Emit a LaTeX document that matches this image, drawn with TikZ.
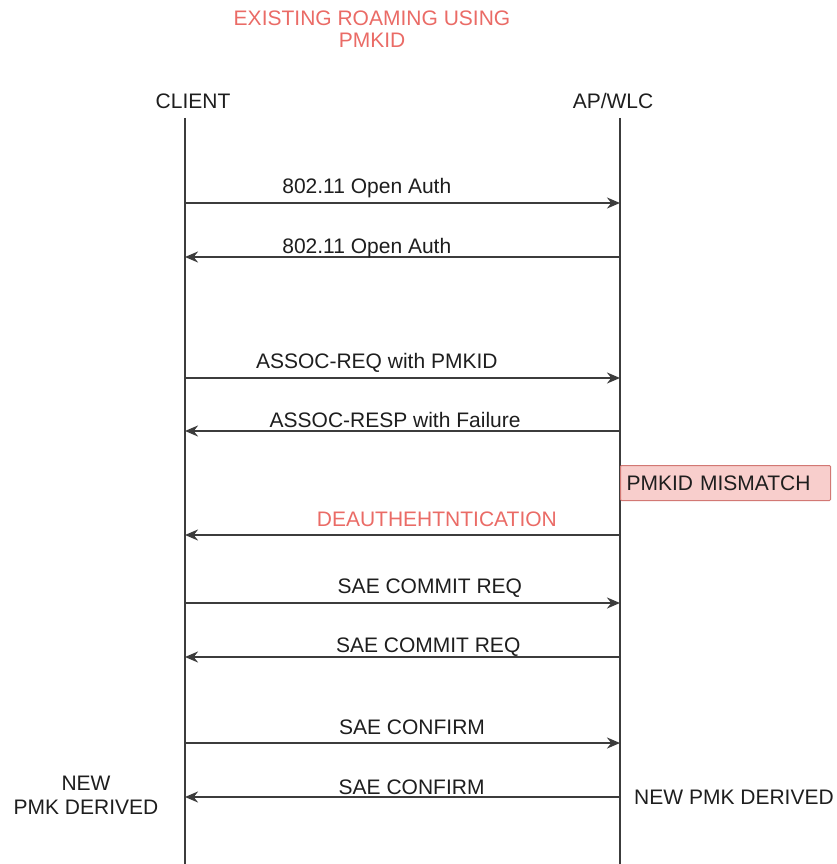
\documentclass[tikz,border=0pt]{standalone}
\usepackage{fontspec}
\setmainfont{Liberation Sans}
\usepackage{xcolor}
\usepackage{tikz}
\usetikzlibrary{arrows.meta, positioning}
\definecolor{linegray}{RGB}{60,60,60}
\definecolor{titlered}{RGB}{234,107,102}
\definecolor{notefill}{RGB}{248,206,204}
\definecolor{noteborder}{RGB}{210,120,116}
\definecolor{textdark}{RGB}{30,30,30}
\tikzset{
  label20/.style={font=\fontsize{21}{24}\selectfont, text=textdark, inner sep=0pt},
  actor/.style={label20},
  lifeline/.style={line width=2pt, color=linegray},
  msg/.style={-{Stealth[length=13pt, width=11pt]}, line width=2.2pt, color=linegray},
  msglabel/.style={label20, anchor=base},
  notebox/.style={rectangle, rounded corners=1pt, fill=notefill, draw=noteborder,
    line width=1pt, font=\fontsize{21}{24}\selectfont, text=textdark,
    text width=198pt, align=left, inner xsep=6pt, minimum height=35pt},
}

\begin{document}
\begin{tikzpicture}[x=1pt, y=-1pt]
  \useasboundingbox (0,0) rectangle (836,864);
  % title
  \node[label20, text=titlered, align=center, font=\fontsize{21}{22}\selectfont]
    (title) at (372,29) {EXISTING ROAMING USING\\PMKID};
  % actors and lifelines
  \node[actor] (client) at (193,101) {CLIENT};
  \node[actor] (ap) at (613,101) {AP/WLC};
  \coordinate (cltop) at (185,118);
  \coordinate (clbot) at (185,864);
  \coordinate (aptop) at (620,118);
  \coordinate (apbot) at (620,864);
  \draw[lifeline] (cltop) -- (clbot);
  \draw[lifeline] (aptop) -- (apbot);
  % message rows
  \foreach \i/\y in {1/203, 2/257, 3/378, 4/431, 5/535, 6/603, 7/657, 8/743, 9/797} {
    \coordinate (c\i) at (185,\y);
    \coordinate (a\i) at (620,\y);
  }
  \draw[msg] (c1) -- (a1) node[msglabel, pos=0.418, yshift=10pt] {802.11 Open Auth};
  \draw[msg] (a2) -- (c2) node[msglabel, pos=0.582, yshift=4pt] {802.11 Open Auth};
  \draw[msg] (c3) -- (a3) node[msglabel, pos=0.441, yshift=10pt] {ASSOC-REQ with PMKID};
  \draw[msg] (a4) -- (c4) node[msglabel, pos=0.517, yshift=4pt] {ASSOC-RESP with Failure};
  \node[notebox, anchor=north west] (mismatch) at (620,465) {PMKID MISMATCH};
  \draw[msg] (a5) -- (c5) node[msglabel, pos=0.421, yshift=9pt, text=titlered] {DEAUTHEHTNTICATION};
  \draw[msg] (c6) -- (a6) node[msglabel, pos=0.563, yshift=10pt] {SAE COMMIT REQ};
  \draw[msg] (a7) -- (c7) node[msglabel, pos=0.441, yshift=5pt] {SAE COMMIT REQ};
  \draw[msg] (c8) -- (a8) node[msglabel, pos=0.522, yshift=9pt] {SAE CONFIRM};
  \draw[msg] (a9) -- (c9) node[msglabel, pos=0.479, yshift=3pt] {SAE CONFIRM};
  % derived keys
  \node[label20, align=center] (clkey) at (86,795) {NEW\\PMK DERIVED};
  \node[label20] (apkey) at (734,797) {NEW PMK DERIVED};
\end{tikzpicture}
\end{document}
